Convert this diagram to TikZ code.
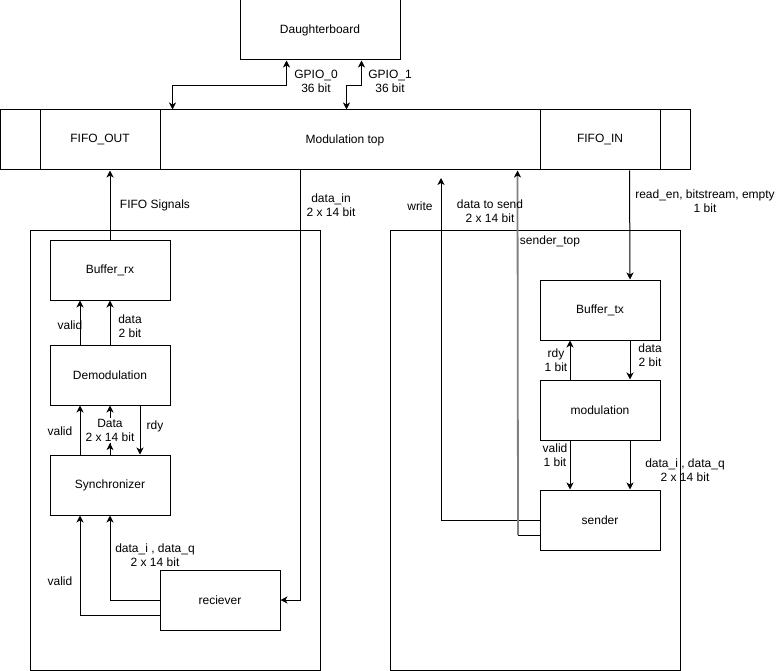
\documentclass[tikz,border=0pt]{standalone}
\usepackage{fontspec}
\setmainfont{Liberation Sans}
\usetikzlibrary{arrows.meta}
\tikzset{block/.style = {rectangle,draw,minimum width=120pt,minimum height=60pt,inner sep=0pt,
                         font=\fontsize{12}{13.8}\selectfont},
         lbl/.style = {align=center,inner sep=1pt,font=\fontsize{12}{13.8}\selectfont},
         sig/.style = {-{Stealth[length=7pt,width=7pt,inset=2pt,black]}},
         bisig/.style = {{Stealth[length=7pt,width=7pt,inset=2pt]}-{Stealth[length=7pt,width=7pt,inset=2pt]}}}

\begin{document}
\begin{tikzpicture}[x=1pt,y=-1pt,line width=1pt]
            \useasboundingbox (0,0) rectangle (781,671);
            \node[block, minimum width=160pt] (db)  at (320,30)  {Daughterboard};
            \node[block, minimum width=690pt] (mt)  at (345,140) {Modulation top};
            \node[block] (fout) at (100,140) {FIFO\_OUT};
            \node[block] (fin)  at (600,140) {FIFO\_IN};
            \node[draw, minimum width=290pt, minimum height=440pt] (rxtop) at (175,450) {};
            \node[draw, minimum width=290pt, minimum height=440pt] (txtop) at (535,450) {};
            \node[lbl] (txname) at (550,241) {sender\_top};

            \node[block] (brx) at (110,270) {Buffer\_rx};
            \node[block] (dem) at (110,375) {Demodulation};
            \node[block] (syn) at (110,485) {Synchronizer};
            \node[block] (rcv) at (220,600) {reciever};

            \node[block] (btx) at (600,310) {Buffer\_tx};
            \node[block] (mod) at (600,410) {modulation};
            \node[block] (snd) at (600,520) {sender};

            \draw[bisig] ([xshift=47pt]db.south west) -- ++(0,25) -| ([xshift=173pt]mt.north west);
            \draw[bisig] ([xshift=122pt]db.south west) -- ++(0,25) -| ([xshift=347pt]mt.north west);
            \node[lbl] at (316,81) {GPIO\_0\\36 bit};
            \node[lbl] at (390,81) {GPIO\_1\\36 bit};

            \draw[sig] (brx.north) -- (brx.north |- fout.south);
            \node[lbl] at (155,205) {FIFO Signals};
            \draw[sig] ([xshift=301pt]mt.south west) |- (rcv.east);
            \node[lbl] at (331,205) {data\_in\\2 x 14 bit};

            \coordinate (wrend) at (441,178);
            \draw[sig] (snd.west) -| (wrend);
            \node[lbl] at (420,206) {write};
            \coordinate (dsbend) at (518,535);
            \draw ([yshift=-15pt]snd.west) -- (dsbend);
            \draw[sig, draw=gray, line width=1.8pt] (dsbend) -- ([xshift=518pt]mt.south west);
            \node[lbl] at (490,211) {data to send\\2 x 14 bit};
            \draw[sig] ([xshift=630pt]mt.south west) -- ([xshift=30pt]btx.north);
            \node[lbl] at (705,201) {read\_en, bitstream, empty\\1 bit};

            \draw[sig] ([xshift=-30pt]dem.north) -- ([xshift=-30pt]brx.south);
            \node[lbl] at (70,325) {valid};
            \draw[sig] (dem.north) -- (brx.south);
            \node[lbl] at (130,326) {data\\2 bit};
            \draw[sig] ([xshift=-30pt]syn.north) -- ([xshift=-30pt]dem.south);
            \node[lbl] at (60,431) {valid};
            \draw[sig] (syn.north) -- (dem.south);
            \node[lbl, fill=white] (datalbl) at (110,430.5) {Data\\2 x 14 bit};
            \draw[sig] (syn.north) -- (syn.north |- datalbl.south);
            \draw[sig] ([xshift=30pt]dem.south) -- ([xshift=30pt]syn.north);
            \node[lbl] at (155,426) {rdy};
            \draw[sig] (rcv.west) -| (syn.south);
            \node[lbl] at (155,555.5) {data\_i , data\_q\\2 x 14 bit};
            \draw[sig] ([yshift=-15pt]rcv.west) -| ([xshift=-30pt]syn.south);
            \node[lbl] at (60,581) {valid};

            \draw[sig] ([xshift=-30pt]mod.north) -- ([xshift=-30pt]btx.south);
            \node[lbl] at (556,360.5) {rdy\\1 bit};
            \draw[sig] ([xshift=30pt]btx.south) -- ([xshift=30pt]mod.north);
            \node[lbl] at (650,355.5) {data\\2 bit};
            \draw[sig] ([xshift=-30pt]mod.south) -- ([xshift=-30pt]snd.north);
            \node[lbl] at (555,455.5) {valid\\1 bit};
            \draw[sig] ([xshift=30pt]mod.south) -- ([xshift=30pt]snd.north);
            \node[lbl] at (685,470.5) {data\_i , data\_q\\2 x 14 bit};
        \end{tikzpicture}
\end{document}
